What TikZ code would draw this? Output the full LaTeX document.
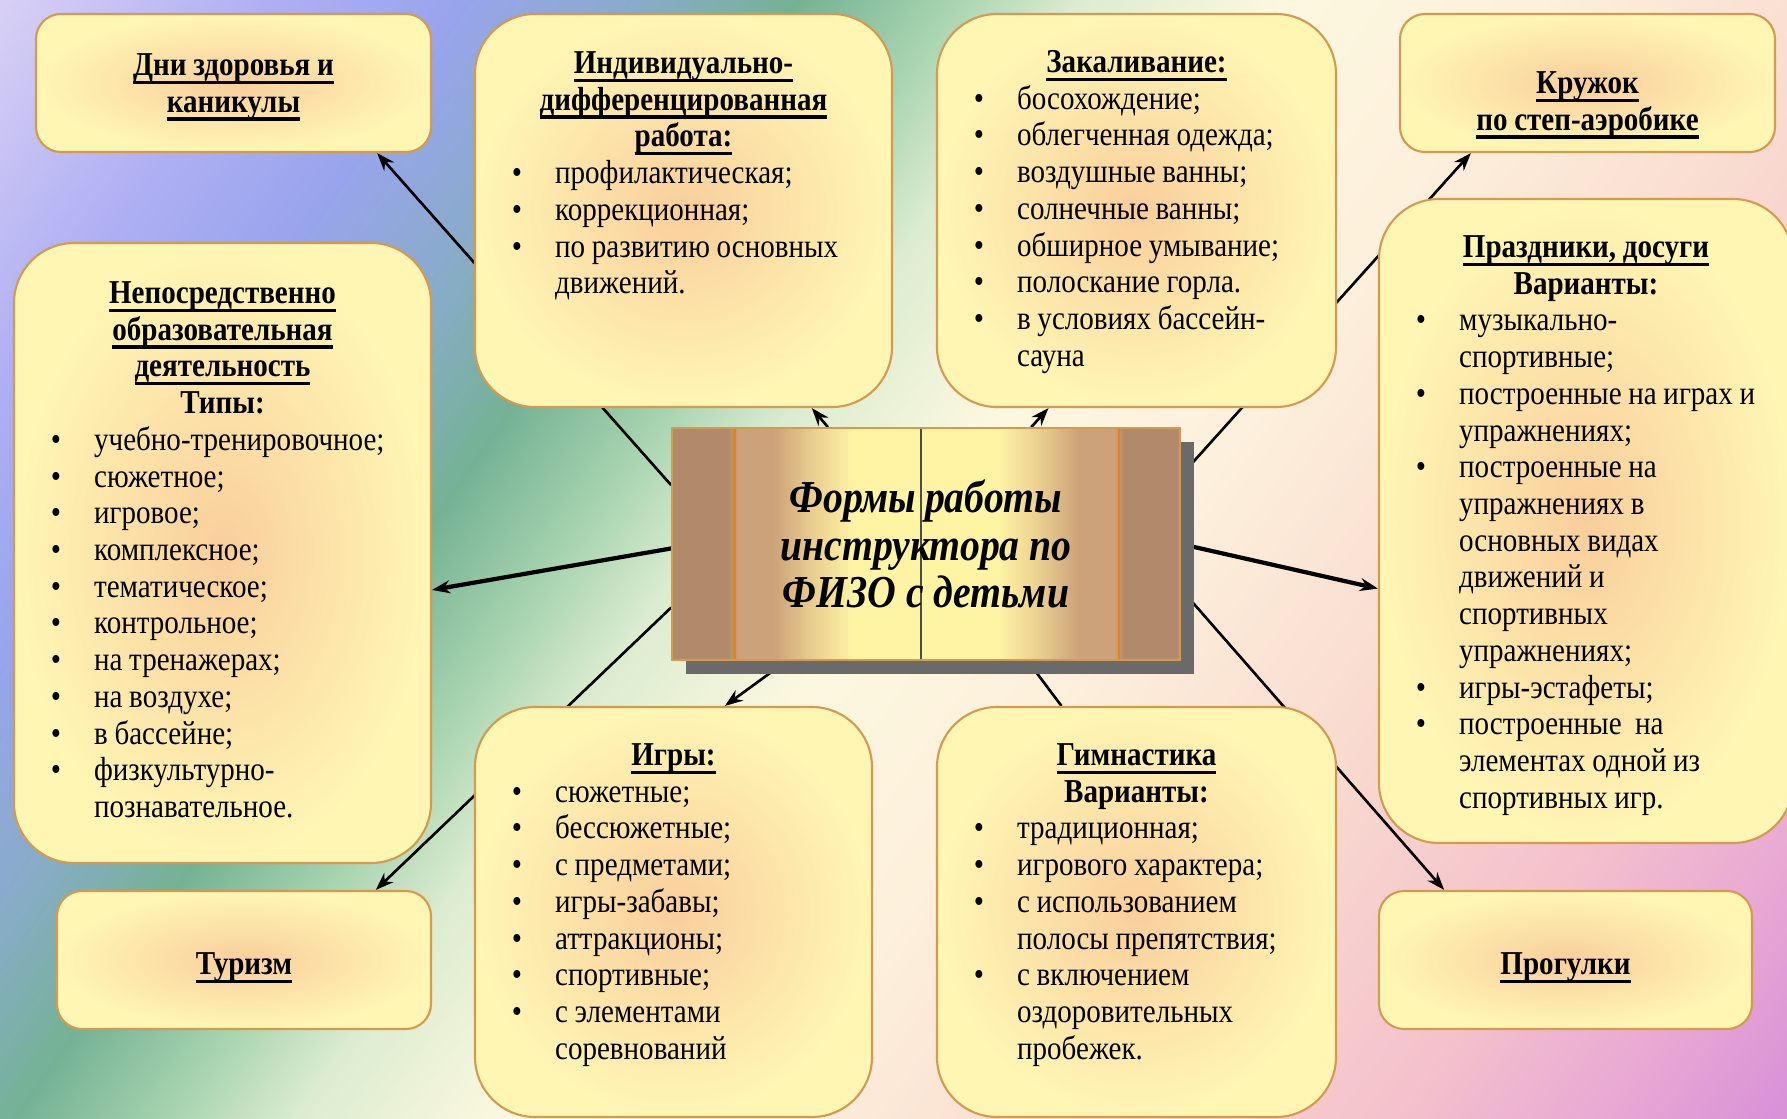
\documentclass[tikz,border=0pt]{standalone}
\usepackage{fontspec}
\setmainfont{Liberation Serif}[FakeStretch=0.87]
\usetikzlibrary{arrows.meta,shadows,calc}

% background colours, top left to bottom right
\definecolor{bgA}{HTML}{D8D0F4}
\definecolor{bgB}{HTML}{B0B0F4}
\definecolor{bgC}{HTML}{98A4EC}
\definecolor{bgD}{HTML}{88ACC8}
\definecolor{bgE}{HTML}{74B294}
\definecolor{bgF}{HTML}{A8D4B0}
\definecolor{bgG}{HTML}{DCECD0}
\definecolor{bgH}{HTML}{FCF8E0}
\definecolor{bgI}{HTML}{FDF0DC}
\definecolor{bgJ}{HTML}{F9DCD0}
\definecolor{bgK}{HTML}{F4C0CC}
\definecolor{bgL}{HTML}{E8A8D4}
\definecolor{bgM}{HTML}{D890D8}
\pgfdeclarehorizontalshading{bgshade}{100bp}{color(0bp)=(bgA); color(15.2bp)=(bgA);
  color(22.2bp)=(bgB); color(27.7bp)=(bgC); color(32.6bp)=(bgD); color(36.8bp)=(bgE);
  color(41bp)=(bgF); color(44.4bp)=(bgG); color(50bp)=(bgH); color(57bp)=(bgI);
  color(65.3bp)=(bgJ); color(74.4bp)=(bgK); color(79.9bp)=(bgL); color(84.8bp)=(bgM);
  color(100bp)=(bgM)}

% boxes and the central "book"
\definecolor{boxout}{HTML}{FFF6B4}
\definecolor{boxin}{HTML}{F9CE9C}
\definecolor{boxedge}{HTML}{D49A50}
\definecolor{bkdark}{HTML}{B08A6A}
\definecolor{bkmid}{HTML}{CCA27A}
\definecolor{bklight}{HTML}{EAD090}
\definecolor{bkyel}{HTML}{FFF4A4}
\definecolor{shadowgray}{HTML}{6A6A6A}
\pgfdeclarehorizontalshading{bookshade}{100bp}{color(0bp)=(bkdark); color(30.5bp)=(bkdark);
  color(31.5bp)=(bkmid); color(35bp)=(bkmid); color(39bp)=(bklight); color(43bp)=(bkyel);
  color(57bp)=(bkyel); color(61bp)=(bklight); color(65bp)=(bkmid); color(68.5bp)=(bkmid);
  color(69.5bp)=(bkdark); color(100bp)=(bkdark)}

\newlength\bulin \setlength\bulin{10.5pt}
\newlength\itmin \setlength\itmin{22.8pt}
\newcommand\ul[1]{\leavevmode\setbox0\hbox{#1}\rlap{\rule[-2.4pt]{\wd0}{0.9pt}}\box0}
\newcommand\hd[1]{\par\noindent\spaceskip=.2em\relax\makebox[\hsize]{\bfseries #1}\par}
\newcommand\nl{\hfil\break}
\newcommand\itm[1]{\par\noindent\spaceskip=.2em\relax\hangindent=\itmin\hangafter=1%
  \makebox[\itmin][l]{\hspace{\bulin}\textbullet}#1\par}

\pgfdeclarelayer{bg}
\pgfdeclarelayer{lines}
\pgfsetlayers{bg,lines,main}

\tikzset{
  box/.style={draw=boxedge, line width=0.6pt, inner color=boxin, outer color=boxout},
  tallbox/.style={box, rounded corners=6mm},
  smallbox/.style={box, rounded corners=2.5mm},
  txt/.style={anchor=north, inner sep=0pt, align=left, font=\fontsize{9.5}{10.45}\selectfont},
  link/.style={-{Stealth[length=1.8mm,width=1.3mm]}, line width=0.75pt},
  book/.style={draw=boxedge, line width=0.5pt, shading=bookshade,
    general shadow={fill=shadowgray, shadow xshift=1.4mm, shadow yshift=-1.4mm},
    align=center, font=\fontsize{13}{13.6}\selectfont\bfseries\itshape,
    path picture={
      \draw[orange!70!brown, line width=0.6pt]
        ($(path picture bounding box.north west)!0.123!(path picture bounding box.north east)$) --
        ($(path picture bounding box.south west)!0.123!(path picture bounding box.south east)$);
      \draw[orange!70!brown, line width=0.6pt]
        ($(path picture bounding box.north west)!0.88!(path picture bounding box.north east)$) --
        ($(path picture bounding box.south west)!0.88!(path picture bounding box.south east)$);
      \draw[black!70, line width=0.5pt]
        ($(path picture bounding box.north west)!0.49!(path picture bounding box.north east)$) --
        ($(path picture bounding box.south west)!0.49!(path picture bounding box.south east)$);
    }},
}

\begin{document}
\begin{tikzpicture}[x=0.1mm, y=-0.1mm]
    \useasboundingbox (0,0) rectangle (1787,1119);

    % Background
    \begin{pgfonlayer}{bg}
        \fill[shading=bgshade, shading angle=-35] (0,0) rectangle (1787,1119);
    \end{pgfonlayer}

    % Central node
    \node[book, minimum width=50.8mm, minimum height=23.2mm] (ctr) at (926,544)
        {\spaceskip=.2em\relax Формы работы\\инструктора по\\ФИЗО с детьми};

    % Top row
    \node[smallbox, minimum width=39.5mm, minimum height=13.8mm] (A) at (233.5,83) {};
    \node[tallbox, minimum width=41.7mm, minimum height=39.3mm] (B) at (683.5,210.5) {};
    \node[tallbox, minimum width=39.9mm, minimum height=39.3mm] (C) at (1136.5,210.5) {};
    \node[smallbox, minimum width=37.5mm, minimum height=13.8mm] (D) at (1587.5,83) {};

    % Side boxes
    \node[tallbox, minimum width=41.7mm, minimum height=62mm] (F) at (222.5,553) {};
    \node[tallbox, minimum width=41.4mm, minimum height=64.4mm] (E) at (1586,521) {};

    % Bottom row
    \node[smallbox, minimum width=37.4mm, minimum height=13.8mm] (G) at (244,960) {};
    \node[tallbox, minimum width=39.7mm, minimum height=41mm] (H) at (673.5,912) {};
    \node[tallbox, minimum width=39.9mm, minimum height=41mm] (I) at (1136.5,912) {};
    \node[smallbox, minimum width=37.3mm, minimum height=13.8mm] (J) at (1565.5,960) {};

    % Texts
    \node[txt, text width=39.5mm] (Atxt) at ($(A.north)+(0,25)$)
        {\hd{\ul{Дни здоровья и}}\hd{\ul{каникулы}}};
    \node[txt, text width=41.7mm] (Btxt) at ($(B.north)+(0,23)$)
        {\hd{\ul{Индивидуально-}}\hd{\ul{дифференцированная}}\hd{\ul{работа:}}
         \itm{профилактическая;}\itm{коррекционная;}\itm{по развитию основных\nl движений.}};
    \node[txt, text width=39.9mm] (Ctxt) at ($(C.north)+(0,22)$)
        {\hd{\ul{Закаливание:}}
         \itm{босохождение;}\itm{облегченная одежда;}\itm{воздушные ванны;}
         \itm{солнечные ванны;}\itm{обширное умывание;}\itm{полоскание горла.}
         \itm{в условиях бассейн-\nl сауна}};
    \node[txt, text width=37.5mm] (Dtxt) at ($(D.north)+(0,43)$)
        {\hd{\ul{Кружок}}\hd{\ul{по степ-аэробике}}};
    \node[txt, text width=41.4mm] (Etxt) at ($(E.north)+(0,22)$)
        {\hd{\ul{Праздники, досуги}}\hd{Варианты:}
         \itm{музыкально-\nl спортивные;}\itm{построенные на играх и\nl упражнениях;}
         \itm{построенные на\nl упражнениях в\nl основных видах\nl движений и\nl спортивных\nl упражнениях;}
         \itm{игры-эстафеты;}\itm{построенные\ \ на\nl элементах одной из\nl спортивных игр.}};
    \node[txt, text width=41.7mm] (Ftxt) at ($(F.north)+(0,24)$)
        {\hd{\ul{Непосредственно}}\hd{\ul{образовательная}}\hd{\ul{деятельность}}\hd{Типы:}
         \itm{учебно-тренировочное;}\itm{сюжетное;}\itm{игровое;}\itm{комплексное;}
         \itm{тематическое;}\itm{контрольное;}\itm{на тренажерах;}\itm{на воздухе;}
         \itm{в бассейне;}\itm{физкультурно-\nl познавательное.}};
    \node[txt, text width=37.4mm] (Gtxt) at ($(G.north)+(0,47)$) {\hd{\ul{Туризм}}};
    \node[txt, text width=39.7mm] (Htxt) at ($(H.north)+(0,22)$)
        {\hd{\ul{Игры:}}
         \itm{сюжетные;}\itm{бессюжетные;}\itm{с предметами;}\itm{игры-забавы;}
         \itm{аттракционы;}\itm{спортивные;}\itm{с элементами\nl соревнований}};
    \node[txt, text width=39.9mm] (Itxt) at ($(I.north)+(0,22)$)
        {\hd{\ul{Гимнастика}}\hd{Варианты:}
         \itm{традиционная;}\itm{игрового характера;}
         \itm{с использованием\nl полосы препятствия;}
         \itm{с включением\nl оздоровительных\nl пробежек.}};
    \node[txt, text width=37.3mm] (Jtxt) at ($(J.north)+(0,47)$) {\hd{\ul{Прогулки}}};

    % Arrows from the centre
    \begin{pgfonlayer}{lines}
        \foreach \a/\n/\b in {167/A/-26, 130/B/-57, 48/C/-114, 15/D/-149,
                              194/G/28, 220/H/76, -10/J/150} {
            \draw[link] (ctr.\a) -- (\n.\b);
        }
        \draw[link, line width=1.2pt] (ctr.181) -- (F.-10);
        \draw[link, line width=1.2pt] (ctr.0) -- (E.198);
        \draw[line width=0.75pt] (ctr.-49) -- (I.110);
    \end{pgfonlayer}
\end{tikzpicture}
\end{document}
